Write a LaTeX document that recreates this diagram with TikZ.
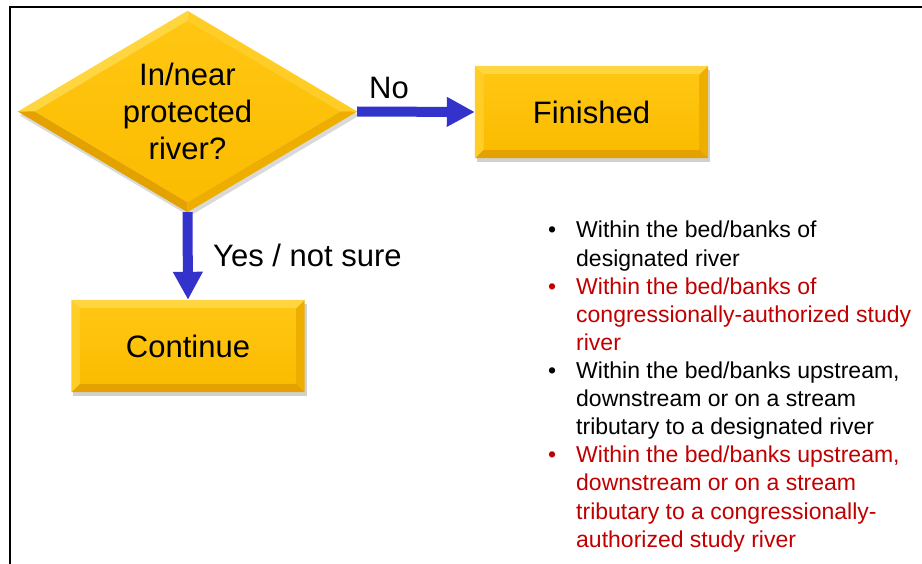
\documentclass[tikz,border=0pt]{standalone}
\usepackage{fontspec}
\setmainfont{Liberation Sans}
\usetikzlibrary{arrows.meta,shapes.geometric,calc,backgrounds}

\definecolor{goldface}{RGB}{251,188,0}
\definecolor{goldfacetop}{RGB}{255,198,18}
\definecolor{bevtop}{RGB}{255,214,64}
\definecolor{bevleft}{RGB}{255,205,38}
\definecolor{bevright}{RGB}{238,174,0}
\definecolor{bevbottom}{RGB}{228,162,0}
\definecolor{flowblue}{RGB}{51,51,204}
\definecolor{notered}{RGB}{192,0,0}

% bevelled gold rectangle behind node #1, bevel depth #2
\newcommand\goldbevelrect[2]{%
  \fill[black,opacity=0.18] ($(#1.north west)+(2,4)$) rectangle ($(#1.south east)+(2,4)$);
  \fill[bevtop] (#1.north west) -- (#1.north east) -- ($(#1.north east)+(-#2,#2)$) -- ($(#1.north west)+(#2,#2)$) -- cycle;
  \fill[bevright] (#1.north east) -- (#1.south east) -- ($(#1.south east)+(-#2,-#2)$) -- ($(#1.north east)+(-#2,#2)$) -- cycle;
  \fill[bevbottom] (#1.south east) -- (#1.south west) -- ($(#1.south west)+(#2,-#2)$) -- ($(#1.south east)+(-#2,-#2)$) -- cycle;
  \fill[bevleft] (#1.south west) -- (#1.north west) -- ($(#1.north west)+(#2,#2)$) -- ($(#1.south west)+(#2,-#2)$) -- cycle;
  \shade[top color=goldfacetop,bottom color=goldface] ($(#1.north west)+(#2,#2)$) rectangle ($(#1.south east)+(-#2,-#2)$);
}

\begin{document}
\begin{tikzpicture}[x=1pt,y=-1pt,
  bigtext/.style={font=\fontsize{31}{37}\selectfont},
  listtext/.style={font=\fontsize{23}{28.1}\selectfont, inner sep=0pt, align=left, anchor=base west},
  bulletmark/.style={font=\fontsize{23}{28.1}\selectfont, inner sep=0pt, anchor=base west},
  flow/.style={draw=flowblue, line width=10pt, -{Triangle[length=28pt,width=28pt]}},
  goldbox/.style={rectangle, minimum width=233pt, minimum height=92pt, inner sep=0pt, bigtext}
]
\useasboundingbox (0,0) rectangle (922,564);

% frame
\draw[line width=2pt] (9.5,564) -- (9.5,7.5) -- (922,7.5);

% decision
\node[diamond, aspect=1.687, minimum width=339pt, minimum height=201pt, inner sep=0pt,
      bigtext, align=center] (q) at (187.5,111.5) {In/near\\protected\\river?};

% outcomes
\node[goldbox] (fin) at (591.5,112) {Finished};
\node[goldbox] (cont) at (188,346) {Continue};

\begin{scope}[on background layer]
  \fill[black,opacity=0.15] ($(q.north)+(2,4)$) -- ($(q.east)+(2,4)$) -- ($(q.south)+(2,4)$) -- ($(q.west)+(2,4)$) -- cycle;
  \fill[bevtop] (q.west) -- (q.north) -- ($(q.north)+(0,10)$) -- ($(q.west)+(17,0)$) -- cycle;
  \fill[bevleft] (q.north) -- (q.east) -- ($(q.east)+(-17,0)$) -- ($(q.north)+(0,10)$) -- cycle;
  \fill[bevright] (q.east) -- (q.south) -- ($(q.south)+(0,-10)$) -- ($(q.east)+(-17,0)$) -- cycle;
  \fill[bevbottom] (q.south) -- (q.west) -- ($(q.west)+(17,0)$) -- ($(q.south)+(0,-10)$) -- cycle;
  \shade[top color=goldfacetop,bottom color=goldface] ($(q.north)+(0,10)$) -- ($(q.east)+(-17,0)$) -- ($(q.south)+(0,-10)$) -- ($(q.west)+(17,0)$) -- cycle;
  \goldbevelrect{fin}{9}
  \goldbevelrect{cont}{9}
\end{scope}

% connectors
\draw[flow] (q.east) -- (fin.west);
\draw[flow] (q.south) -- (cont.north);
\node[bigtext, inner sep=0pt, anchor=base west] (nolab) at (369,99) {No};
\node[bigtext, inner sep=0pt, anchor=base west] (yeslab) at (213,267) {Yes / not sure};

% criteria list (each item is anchored at the baseline of its last line)
\node[bulletmark] (m1) at (548,238) {•};
\node[listtext] (b1) at (576,266.1) {Within the bed/banks of\\designated river};
\node[bulletmark, text=notered] (m2) at (548,294.2) {•};
\node[listtext, text=notered] (b2) at (576,350.4) {Within the bed/banks of\\congressionally-authorized study\\river};
\node[bulletmark] (m3) at (548,378.5) {•};
\node[listtext] (b3) at (576,434.7) {Within the bed/banks upstream,\\downstream or on a stream\\tributary to a designated river};
\node[bulletmark, text=notered] (m4) at (548,462.8) {•};
\node[listtext, text=notered] (b4) at (576,547.1) {Within the bed/banks upstream,\\downstream or on a stream\\tributary to a congressionally-\\authorized study river};
\end{tikzpicture}
\end{document}
